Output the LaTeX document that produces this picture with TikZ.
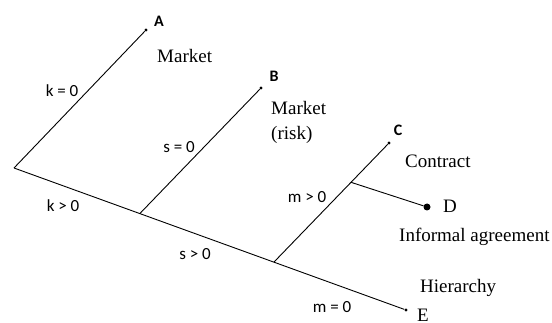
\documentclass[tikz,border=0pt]{standalone}
\usepackage{fontspec}
\setmainfont{Liberation Serif}
\newfontfamily\calfont{Carlito}
\usetikzlibrary{calc}

\tikzset{
  branch/.style={draw=black, line width=0.9pt},
  dot/.style={circle, fill=black, inner sep=0pt, minimum size=3.4pt},
  bigdot/.style={circle, fill=black, inner sep=0pt, minimum size=7pt},
  leaf/.style={font=\calfont\fontsize{16}{18}\selectfont\bfseries},
  cond/.style={font=\calfont\fontsize{17}{20}\selectfont},
  outcome/.style={font=\fontsize{19}{25}\selectfont, anchor=base west, inner sep=0pt, align=left}
}

\begin{document}
\begin{tikzpicture}[x=1pt,y=-1pt]
\useasboundingbox (0,0) rectangle (552,323);
% end points of the tree
\coordinate (root) at (14,168);
\node[dot] (A) at (146,30) {};
\node[dot] (B) at (261,88) {};
\node[dot] (C) at (389,143) {};
\node[bigdot] (D) at (427,207) {};
\node[dot] (E) at (406,310) {};
% junctions
\coordinate (jb) at ($(root)!0.321!(E)$);
\coordinate (jc) at ($(root)!0.663!(E)$);
\coordinate (jd) at ($(jc)!0.67!(C)$);
% branches
\draw[branch] (root) -- (A);
\draw[branch] (root) -- (E);
\draw[branch] (jb) -- (B);
\draw[branch] (jc) -- (C);
\draw[branch] (jd) -- (D);
% letters
\node[leaf] (labA) at (159,21) {A};
\node[leaf] (labB) at (274,76) {B};
\node[leaf] (labC) at (398,130) {C};
\node[outcome] (labD) at (443,213) {D};
\node[outcome] (labE) at (417,322) {E};
% outcomes
\node[outcome] (market) at (157,63) {Market};
\node[outcome] (risk) at (271,140) {Market\\(risk)};
\node[outcome] (contract) at (405,168) {Contract};
\node[outcome] (informal) at (399,242) {Informal agreement};
\node[outcome] (hierarchy) at (420,293) {Hierarchy};
% conditions
\node[cond] (k0) at (62,91) {k = 0};
\node[cond] (s0) at (179,147) {s = 0};
\node[cond] (mg) at (307,197) {m > 0};
\node[cond] (kg) at (63,206) {k > 0};
\node[cond] (sg) at (195,254) {s > 0};
\node[cond] (m0) at (332,307) {m = 0};
\end{tikzpicture}
\end{document}
